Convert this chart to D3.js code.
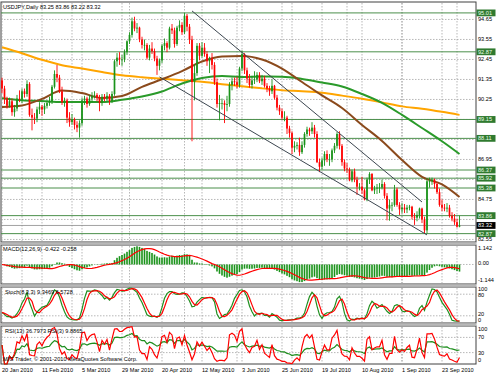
<!DOCTYPE html>
<html>
<head>
<meta charset="utf-8">
<script src="https://cdn.jsdelivr.net/npm/d3@7.9.0/dist/d3.min.js"></script>
<style>
  body { margin: 0; background: #fff; }
  svg text { font-family: "Liberation Sans", Arial, sans-serif; font-size: 5.6px; fill: #000; }
</style>
</head>
<body>
<svg id="chart" width="500" height="375"></svg>
<script>
// USDJPY daily bars, 20 Jan 2010 .. 4 Oct 2010
const opens = [
  91.30,90.85,90.30,89.90,90.15,89.55,89.75,90.30,90.25,90.70,
  90.55,91.10,89.40,89.25,89.20,89.70,89.85,89.70,89.90,90.05,
  90.15,90.95,91.65,91.45,90.70,90.10,90.20,89.25,89.00,89.15,
  88.85,88.70,88.95,90.20,90.30,90.00,90.30,90.45,90.50,90.35,
  90.05,90.40,90.30,90.45,90.15,90.55,92.35,92.55,92.45,92.45,
  92.85,93.45,93.80,94.55,94.15,94.20,93.55,93.25,93.25,92.55,
  93.05,92.90,92.50,92.10,92.40,93.20,93.35,93.10,94.15,94.05,
  93.30,94.20,94.35,93.95,94.85,94.25,93.55,91.20,91.70,93.20,
  92.65,93.10,92.75,92.35,92.50,92.15,91.20,90.00,90.05,90.05,
  89.95,90.00,91.05,91.25,91.20,91.05,91.95,92.75,91.85,91.40,
  91.05,91.30,91.35,91.60,91.25,91.40,91.00,90.85,90.70,91.00,
  90.35,89.80,89.60,89.25,89.25,88.65,88.40,87.60,87.70,87.75,
  87.35,87.75,88.35,88.60,88.50,88.70,88.35,86.80,86.55,86.90,
  87.25,86.95,86.95,87.45,87.70,88.35,87.70,86.80,86.45,86.40,
  85.80,86.30,85.85,85.45,85.45,85.25,84.75,85.85,86.15,85.25,
  85.35,85.40,85.40,85.60,84.95,84.25,84.45,84.45,85.30,84.45,
  84.20,84.30,84.20,84.30,84.35,83.80,83.75,83.90,84.25,83.65,
  83.05,85.75,85.75,85.85,85.60,85.15,84.45,84.30,84.25,84.30,
  83.85,83.70,83.50,83.25
];
const highs = [
  91.45,91.00,90.40,90.35,90.30,89.95,90.50,90.75,90.85,90.85,
  91.30,91.20,89.75,89.50,89.85,90.10,89.95,90.05,90.20,90.40,
  91.05,91.85,92.15,91.60,90.95,90.35,90.30,89.55,89.45,89.25,
  89.05,89.10,90.35,90.45,90.40,90.50,90.65,90.70,90.60,90.50,
  90.55,90.55,90.65,90.55,90.70,92.45,92.80,92.85,92.70,93.00,
  93.50,93.95,94.75,94.80,94.45,94.25,93.70,93.55,93.35,93.25,
  93.40,93.05,92.65,92.50,93.30,93.60,93.45,94.25,94.40,94.20,
  94.30,94.60,94.50,95.00,94.95,94.40,93.75,92.20,93.35,93.35,
  93.40,93.35,92.90,92.60,92.80,92.30,91.40,90.50,90.30,90.20,
  90.45,91.20,91.45,91.45,91.50,92.05,92.95,92.80,92.00,91.65,
  91.55,91.80,91.75,91.75,91.60,91.55,91.15,91.00,91.35,91.05,
  90.50,89.95,89.75,89.60,89.35,88.80,88.50,87.95,87.90,88.15,
  87.95,88.45,88.75,88.70,89.00,88.85,88.50,87.00,87.05,87.40,
  87.45,87.25,87.55,87.85,88.45,88.50,87.80,86.95,86.75,86.50,
  86.40,86.45,86.00,85.65,86.00,85.35,85.95,86.25,86.20,85.50,
  85.60,85.65,85.85,85.70,85.10,84.75,84.60,85.55,85.40,84.60,
  84.55,84.50,84.45,84.45,84.40,84.00,84.10,84.30,84.30,83.80,
  85.93,85.95,85.95,85.90,85.70,85.35,84.75,84.50,84.55,84.45,
  84.05,83.95,83.70,83.86
];
const lows = [
  90.60,90.00,89.75,89.80,89.35,89.30,89.60,90.10,90.05,90.35,
  90.40,89.30,88.55,88.90,89.00,89.45,89.35,89.45,89.75,89.90,
  90.00,90.85,91.20,90.60,89.95,89.85,88.95,88.75,88.85,88.60,
  88.45,88.15,88.80,89.95,89.80,89.90,90.10,90.30,90.15,89.60,
  89.90,90.15,90.15,89.95,90.05,90.45,92.05,92.15,92.10,92.30,
  92.70,93.30,93.65,94.00,93.90,93.40,93.05,92.95,92.45,92.40,
  92.75,92.35,91.60,91.85,92.25,92.95,92.85,93.00,93.85,93.10,
  93.20,94.00,93.80,93.85,94.00,93.30,87.95,90.20,91.55,92.40,
  92.55,92.60,92.10,91.70,91.90,91.05,89.80,89.10,89.70,88.95,
  89.60,89.85,90.75,91.00,90.85,90.90,91.80,91.65,91.15,90.90,
  90.85,91.10,91.20,91.15,91.05,90.90,90.65,90.45,90.55,90.25,
  89.65,89.40,89.15,89.05,88.35,88.15,87.25,87.35,87.50,87.15,
  87.25,87.60,88.20,88.25,88.35,88.15,86.75,86.25,86.40,86.60,
  86.80,86.60,86.80,87.30,87.55,87.50,86.60,86.30,86.20,85.75,
  85.70,85.70,85.00,85.25,85.05,84.70,84.65,85.60,85.20,85.05,
  85.05,85.10,85.30,84.80,83.60,83.58,84.10,84.35,84.35,83.90,
  84.00,84.00,84.00,84.15,83.65,83.35,83.55,83.70,83.45,82.87,
  82.87,85.40,85.55,85.35,85.05,84.35,84.10,84.10,84.05,83.75,
  83.55,83.35,83.20,83.22
];
const closes = [
  90.85,90.30,89.90,90.15,89.55,89.75,90.30,90.25,90.70,90.55,
  91.10,89.40,89.25,89.20,89.70,89.85,89.70,89.90,90.05,90.15,
  90.95,91.65,91.45,90.70,90.10,90.20,89.25,89.00,89.15,88.85,
  88.70,88.95,90.20,90.30,90.00,90.30,90.45,90.50,90.35,90.05,
  90.40,90.30,90.45,90.15,90.55,92.35,92.55,92.45,92.45,92.85,
  93.45,93.80,94.55,94.15,94.20,93.55,93.25,93.25,92.55,93.05,
  92.90,92.50,92.10,92.40,93.20,93.35,93.10,94.15,94.05,93.30,
  94.20,94.35,93.95,94.85,94.25,93.55,91.20,91.70,93.20,92.65,
  93.10,92.75,92.35,92.50,92.15,91.20,90.00,90.05,90.05,89.95,
  90.00,91.05,91.25,91.20,91.05,91.95,92.75,91.85,91.40,91.05,
  91.30,91.35,91.60,91.25,91.40,91.00,90.85,90.70,91.00,90.35,
  89.80,89.60,89.25,89.25,88.65,88.40,87.60,87.70,87.75,87.35,
  87.75,88.35,88.60,88.50,88.70,88.35,86.80,86.55,86.90,87.25,
  86.95,86.95,87.45,87.70,88.35,87.70,86.80,86.45,86.40,85.80,
  86.30,85.85,85.45,85.45,85.25,84.75,85.85,86.15,85.25,85.35,
  85.40,85.40,85.60,84.95,84.25,84.45,84.45,85.30,84.45,84.20,
  84.30,84.20,84.30,84.35,83.80,83.75,83.90,84.25,83.65,83.05,
  85.75,85.75,85.85,85.60,85.15,84.45,84.30,84.25,84.30,83.85,
  83.70,83.50,83.25,83.32
];

// moving averages, every 8th bar
const maIdx = [0,8,16,24,32,40,48,56,64,72,80,88,96,104,112,120,128,136,144,152,160,168,176,183];
const maOrange = [93.12,92.79,92.43,92.13,91.95,91.76,91.58,91.47,91.39,91.31,91.22,91.09,90.98,90.86,90.76,90.70,90.62,90.46,90.29,90.09,89.87,89.74,89.57,89.40];
const maBrown  = [89.84,89.92,90.28,90.74,90.60,90.33,90.44,90.94,91.36,91.81,92.34,92.61,92.64,92.45,91.95,91.21,90.47,89.78,88.85,87.97,86.92,85.99,85.58,84.89];
const maGreen  = [90.32,90.21,90.16,90.11,90.11,90.11,90.23,90.41,90.69,91.13,91.43,91.54,91.49,91.51,91.50,91.38,91.18,90.96,90.55,90.06,89.40,88.68,87.95,87.25];

// channel trendlines [bar index, price]
const channelUpper = [[76, 95.12], [168, 84.61]];
const channelLower = [[63, 91.49], [170, 82.80]];

// horizontal levels
const levels = [95.01, 92.87, 89.15, 88.11, 86.37, 85.92, 85.38, 83.86, 82.87];
const lastPrice = 83.32;

// axes
const priceTicks = [94.65, 93.55, 92.45, 91.35, 90.25, 89.15, 88.05, 86.95, 85.85, 84.75, 83.65, 82.55];
const dateTickIdx = [0,16,32,48,64,80,96,112,128,144,160,176];
const dateTickLabels = ["20 Jan 2010","11 Feb 2010","5 Mar 2010","29 Mar 2010","20 Apr 2010","12 May 2010",
  "3 Jun 2010","25 Jun 2010","19 Jul 2010","10 Aug 2010","1 Sep 2010","23 Sep 2010"];
const monthStartIdx = [8,28,51,73,94,116,138,160,182];

const svg = d3.select("#chart");
const plotL = 1, plotR = 476;
const P = {
  main:  { top: 2,   bottom: 242 },
  macd:  { top: 245, bottom: 284 },
  stoch: { top: 287, bottom: 323 },
  rsi:   { top: 326, bottom: 364 }
};

const x = d3.scaleLinear().domain([0, 183]).range([2, 459.5]);
const y = d3.scaleLinear().domain([82.41, 95.61]).range([P.main.bottom, P.main.top]);
const yMacd = d3.scaleLinear().domain([-1.144, 1.142]).range([P.macd.bottom, P.macd.top]);
const yStoch = d3.scaleLinear().domain([0, 100]).range([P.stoch.bottom, P.stoch.top]);
const yRsi = d3.scaleLinear().domain([0, 100]).range([P.rsi.bottom, P.rsi.top]);

const bull = "#1a931a", bear = "#ff0000";
const gridCol = "#9a9a9a";

// ---- indicators (computed from the bars)
function ema(arr, n) {
  const k = 2 / (n + 1);
  let prev = arr[0];
  return arr.map((v, i) => (prev = i === 0 ? v : prev + k * (v - prev)));
}
function sma(arr, n) {
  return arr.map((v, i) => d3.mean(arr.slice(Math.max(0, i - n + 1), i + 1)));
}
function rsi(arr, n) {
  let ag = 0, al = 0;
  return arr.map((v, i) => {
    if (i === 0) return 50;
    const ch = v - arr[i - 1];
    const g = Math.max(ch, 0), l = Math.max(-ch, 0);
    const m = Math.min(i, n);
    ag = (ag * (m - 1) + g) / m;
    al = (al * (m - 1) + l) / m;
    return al === 0 ? 100 : 100 - 100 / (1 + ag / al);
  });
}
const ema12 = ema(closes, 12), ema26 = ema(closes, 26);
const macdMain = ema12.map((v, i) => v - ema26[i]);
const macdSignal = sma(macdMain, 9);

const kParts = closes.map((c, i) => {
  const lo = d3.min(lows.slice(Math.max(0, i - 7), i + 1));
  const hi = d3.max(highs.slice(Math.max(0, i - 7), i + 1));
  return { num: c - lo, den: hi - lo };
});
const stochMain = kParts.map((d, i) => {
  const s = kParts.slice(Math.max(0, i - 2), i + 1);
  const den = d3.sum(s, e => e.den);
  return den === 0 ? 50 : 100 * d3.sum(s, e => e.num) / den;
});
const stochSignal = sma(stochMain, 3);
const rsi13 = rsi(closes, 13);
const rsi3 = rsi(closes, 3);

// ---- frames and separators
svg.append("rect").attr("width", 500).attr("height", 375).attr("fill", "#fff");
Object.values(P).forEach(p => {
  svg.append("rect").attr("x", plotL).attr("y", p.top).attr("width", plotR - plotL)
    .attr("height", p.bottom - p.top).attr("fill", "#fff").attr("stroke", "#404040").attr("stroke-width", 1);
});
[P.main.bottom, P.macd.bottom, P.stoch.bottom].forEach(b => {
  svg.append("rect").attr("x", 0).attr("y", b + 0.5).attr("width", plotR + 0.5).attr("height", 2.2).attr("fill", "#b8b8b8");
});

// ---- vertical grid
const vGrid = dateTickIdx.concat(monthStartIdx);
Object.values(P).forEach(p => {
  svg.append("g").selectAll("line").data(vGrid).join("line")
    .attr("x1", d => x(d)).attr("x2", d => x(d))
    .attr("y1", p.top + 1).attr("y2", p.bottom - 1)
    .attr("stroke", gridCol).attr("stroke-width", 0.7).attr("stroke-dasharray", "1.5,1.5");
});

// ---- main panel
const gMain = svg.append("g");
gMain.selectAll("line.h").data(priceTicks).join("line").attr("class", "h")
  .attr("x1", plotL).attr("x2", plotR).attr("y1", d => y(d)).attr("y2", d => y(d))
  .attr("stroke", gridCol).attr("stroke-width", 0.7).attr("stroke-dasharray", "1.5,1.5");

gMain.selectAll("line.lvl").data(levels).join("line").attr("class", "lvl")
  .attr("x1", plotL).attr("x2", plotR).attr("y1", d => y(d)).attr("y2", d => y(d))
  .attr("stroke", "#4b8f4b").attr("stroke-width", 1);
gMain.append("line").attr("x1", plotL).attr("x2", plotR).attr("y1", y(lastPrice)).attr("y2", y(lastPrice))
  .attr("stroke", "#8a8a8a").attr("stroke-width", 0.8);

// moving averages
const maLine = d3.line().x((d, i) => x(maIdx[i])).y(d => y(d)).curve(d3.curveMonotoneX);
[[maOrange, "#ffa500"], [maGreen, "#2a9a2a"], [maBrown, "#8b4a1c"]].forEach(([arr, col]) => {
  gMain.append("path").attr("d", maLine(arr)).attr("fill", "none").attr("stroke", col).attr("stroke-width", 2);
});

// candles
const bars = gMain.selectAll("g.bar").data(closes).join("g").attr("class", "bar");
bars.append("line")
  .attr("x1", (d, i) => x(i)).attr("x2", (d, i) => x(i))
  .attr("y1", (d, i) => y(highs[i])).attr("y2", (d, i) => y(lows[i]))
  .attr("stroke", (d, i) => d >= opens[i] ? bull : bear).attr("stroke-width", 0.9);
bars.append("rect")
  .attr("x", (d, i) => x(i) - 0.85).attr("width", 1.7)
  .attr("y", (d, i) => y(Math.max(d, opens[i])))
  .attr("height", (d, i) => Math.max(0.7, Math.abs(y(d) - y(opens[i]))))
  .attr("fill", (d, i) => d >= opens[i] ? bull : bear);

// channel
[channelUpper, channelLower].forEach(ln => {
  gMain.append("line").attr("x1", x(ln[0][0])).attr("y1", y(ln[0][1]))
    .attr("x2", x(ln[1][0])).attr("y2", y(ln[1][1]))
    .attr("stroke", "#3c4650").attr("stroke-width", 1);
});

// right axis (tick labels hidden where a level label sits, as in the terminal)
const axisX = plotR + 2;
const boxY = v => y(v) - 3.4;
const visibleTicks = priceTicks.filter(t =>
  levels.concat([lastPrice]).every(l => Math.abs(y(l) - y(t)) > 5.5));
svg.append("g").selectAll("text").data(visibleTicks).join("text")
  .attr("x", axisX).attr("y", d => y(d) + 2).text(d => d.toFixed(2));
const lvlG = svg.append("g").selectAll("g").data(levels).join("g");
lvlG.append("rect").attr("x", plotR + 0.5).attr("y", boxY).attr("width", 19).attr("height", 6.8)
  .attr("fill", "#2f7a2f");
lvlG.append("text").attr("x", axisX).attr("y", d => y(d) + 2).style("fill", "#eaffea")
  .text(d => d.toFixed(2));
svg.append("rect").attr("x", plotR + 0.5).attr("y", boxY(lastPrice)).attr("width", 19).attr("height", 6.8).attr("fill", "#000");
svg.append("text").attr("x", axisX).attr("y", y(lastPrice) + 2).style("fill", "#fff").text(lastPrice.toFixed(2));

svg.append("text").attr("x", 3).attr("y", P.main.top + 7).text("USDJPY,Daily  83.25 83.86 83.22 83.32");

// ---- MACD
const gM = svg.append("g");
gM.append("line").attr("x1", plotL).attr("x2", plotR).attr("y1", yMacd(0)).attr("y2", yMacd(0))
  .attr("stroke", gridCol).attr("stroke-width", 0.7).attr("stroke-dasharray", "1.5,1.5");
gM.selectAll("rect").data(macdMain).join("rect")
  .attr("x", (d, i) => x(i) - 0.8).attr("width", 1.6)
  .attr("y", d => yMacd(Math.min(Math.max(d, 0), 1.142)))
  .attr("height", d => Math.abs(yMacd(Math.max(-1.144, Math.min(1.142, d))) - yMacd(0)))
  .attr("fill", "#1a931a");
gM.append("path").attr("d", d3.line().x((d, i) => x(i)).y(d => yMacd(d))(macdSignal))
  .attr("fill", "none").attr("stroke", "#ff0000").attr("stroke-width", 1.2);
gM.append("text").attr("x", 3).attr("y", P.macd.top + 6).text("MACD(12,26,9) -0.422 -0.258");
gM.append("text").attr("x", axisX).attr("y", P.macd.top + 5).text("1.142");
gM.append("text").attr("x", axisX).attr("y", yMacd(0) + 1).text("0.00");
gM.append("text").attr("x", axisX).attr("y", P.macd.bottom - 2).text("-1.144");

// ---- Stochastic
const gS = svg.append("g");
gS.selectAll("line").data([20, 80]).join("line")
  .attr("x1", plotL).attr("x2", plotR).attr("y1", d => yStoch(d)).attr("y2", d => yStoch(d))
  .attr("stroke", gridCol).attr("stroke-width", 0.7).attr("stroke-dasharray", "1.5,1.5");
const lS = d3.line().x((d, i) => x(i)).y(d => yStoch(d));
gS.append("path").attr("d", lS(stochMain)).attr("fill", "none").attr("stroke", "#1f8f1f").attr("stroke-width", 1.2);
gS.append("path").attr("d", lS(stochSignal)).attr("fill", "none").attr("stroke", "#ff0000").attr("stroke-width", 1.2);
gS.append("text").attr("x", 5).attr("y", P.stoch.top + 7).text("Stoch(8,3,3) 9.3469 6.5728");
gS.append("text").attr("x", axisX).attr("y", P.stoch.top + 4).text("100");
gS.append("text").attr("x", axisX).attr("y", yStoch(80) + 3.2).text("80");
gS.append("text").attr("x", axisX).attr("y", yStoch(20)).text("20");
gS.append("text").attr("x", axisX).attr("y", P.stoch.bottom - 1).text("0");

// ---- RSI
const gR = svg.append("g");
gR.selectAll("line").data([30, 70]).join("line")
  .attr("x1", plotL).attr("x2", plotR).attr("y1", d => yRsi(d)).attr("y2", d => yRsi(d))
  .attr("stroke", gridCol).attr("stroke-width", 0.7).attr("stroke-dasharray", "1.5,1.5");
const lR = d3.line().x((d, i) => x(i)).y(d => yRsi(d));
gR.append("path").attr("d", lR(rsi13)).attr("fill", "none").attr("stroke", "#1f8f1f").attr("stroke-width", 1.2);
gR.append("path").attr("d", lR(rsi3)).attr("fill", "none").attr("stroke", "#ff0000").attr("stroke-width", 1.2);
gR.append("text").attr("x", 5).attr("y", P.rsi.top + 7).text("RSI(13) 36.7973  RSI(3) 9.8865");
gR.append("text").attr("x", 3).attr("y", P.rsi.bottom - 3).text("MIG Trader, © 2001-2010 MetaQuotes Software Corp.");
gR.append("text").attr("x", axisX).attr("y", P.rsi.top + 5).text("100");
gR.append("text").attr("x", axisX).attr("y", yRsi(70) + 2).text("70");
gR.append("text").attr("x", axisX).attr("y", yRsi(30) + 2).text("30");
gR.append("text").attr("x", axisX).attr("y", P.rsi.bottom - 2).text("0");

// ---- date axis
svg.append("g").selectAll("text").data(dateTickIdx).join("text")
  .attr("x", d => x(d)).attr("y", 372).text((d, i) => dateTickLabels[i]);
</script>
</body>
</html>
